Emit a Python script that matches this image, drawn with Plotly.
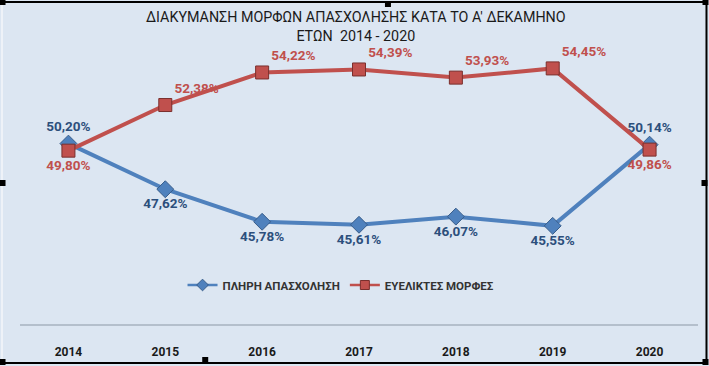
import plotly.graph_objects as go

years = ["2014", "2015", "2016", "2017", "2018", "2019", "2020"]
full_time = [50.20, 47.62, 45.78, 45.61, 46.07, 45.55, 50.14]
flexible = [49.80, 52.38, 54.22, 54.39, 53.93, 54.45, 49.86]
full_labels = ["50,20%", "47,62%", "45,78%", "45,61%", "46,07%", "45,55%", "50,14%"]
flex_labels = ["49,80%", "52,38%", "54,22%", "54,39%", "53,93%", "54,45%", "49,86%"]
full_pos = ["top center", "bottom center", "bottom center", "bottom center",
            "bottom center", "bottom center", "top center"]
flex_pos = ["bottom center", "top right", "top right", "top right",
            "top right", "top right", "bottom center"]
title_text = "ΔΙΑΚΥΜΑΝΣΗ ΜΟΡΦΩΝ ΑΠΑΣΧΟΛΗΣΗΣ ΚΑΤΑ ΤΟ Α' ΔΕΚΑΜΗΝΟ<br>ΕΤΩΝ  2014 - 2020"
name_full = "ΠΛΗΡΗ ΑΠΑΣΧΟΛΗΣΗ"
name_flex = "ΕΥΕΛΙΚΤΕΣ ΜΟΡΦΕΣ"

W, H = 709, 366
L, R, T, B = 19.5, 10.5, 41, 42
PW, PH = W - L - R, H - T - B

def px(x):
    return (x - L) / PW

def py(y):
    return (H - B - y) / PH

BG = "#dce6f2"
FONT = "Roboto, Noto Sans, sans-serif"
BLUE, BLUE_D = "#4f81bd", "#385d8a"
RED, RED_D = "#c0504d", "#7a2f2d"

fig = go.Figure()
fig.add_trace(go.Scatter(
    x=years, y=full_time, mode="lines+markers+text", name=name_full, showlegend=False,
    line=dict(color=BLUE, width=4),
    marker=dict(symbol="diamond", size=13, color=BLUE, line=dict(color=BLUE_D, width=1)),
    text=full_labels, textposition=full_pos,
    textfont=dict(color="#2c4f7c", size=13.5, family=FONT, weight="bold"),
    cliponaxis=False, hoverinfo="skip",
))
fig.add_trace(go.Scatter(
    x=years, y=flexible, mode="lines+markers+text", name=name_flex, showlegend=False,
    line=dict(color=RED, width=4),
    marker=dict(symbol="square", size=13, color=RED, line=dict(color=RED_D, width=1)),
    text=flex_labels, textposition=flex_pos,
    textfont=dict(color=RED, size=13.5, family=FONT, weight="bold"),
    cliponaxis=False, hoverinfo="skip",
))
# legend entries (no data)
fig.add_trace(go.Scatter(
    x=[None], y=[None], mode="lines+markers", name=name_full,
    line=dict(color=BLUE, width=2.5),
    marker=dict(symbol="diamond", size=9, color=BLUE, line=dict(color=BLUE_D, width=1)),
))
fig.add_trace(go.Scatter(
    x=[None], y=[None], mode="lines+markers", name=name_flex,
    line=dict(color=RED, width=2.5),
    marker=dict(symbol="square", size=9, color=RED, line=dict(color=RED_D, width=1)),
))

shapes = []
shapes.append(dict(type="line", xref="paper", yref="paper",
                   x0=px(3), x1=px(707), y0=py(2), y1=py(2),
                   line=dict(color="black", width=2)))
shapes.append(dict(type="line", xref="paper", yref="paper",
                   x0=px(707), x1=px(707), y0=py(2), y1=py(363),
                   line=dict(color="black", width=2)))
shapes.append(dict(type="line", xref="paper", yref="paper",
                   x0=px(3), x1=px(707), y0=py(363), y1=py(363),
                   line=dict(color="black", width=2)))
shapes.append(dict(type="line", xref="paper", yref="paper",
                   x0=px(1.5), x1=px(1.5), y0=py(2), y1=py(363),
                   line=dict(color="#eef2f8", width=2)))
for hx, hy in [(2, 2), (388, 4), (706, 2), (2, 183), (705, 183),
               (2, 362), (205, 360), (706, 362)]:
    shapes.append(dict(type="rect", xref="paper", yref="paper",
                       x0=px(hx - 3), x1=px(hx + 3), y0=py(hy - 3), y1=py(hy + 3),
                       fillcolor="black", line=dict(width=0)))

fig.add_annotation(text=title_text, xref="paper", yref="paper",
                   x=px(356), y=py(26), xanchor="center", yanchor="middle",
                   showarrow=False, align="center",
                   font=dict(size=14.3, color="#1a1a1a", family=FONT))

fig.update_layout(
    width=W, height=H,
    margin=dict(l=L, r=R, t=T, b=B, autoexpand=False),
    paper_bgcolor=BG, plot_bgcolor=BG,
    font=dict(family=FONT),
    showlegend=True,
    legend=dict(orientation="h", x=px(341), xanchor="center", y=py(285), yanchor="middle",
                bgcolor="rgba(0,0,0,0)",
                font=dict(size=11.5, color="#333333", family=FONT, weight="bold"),
                itemwidth=30, traceorder="normal"),
    xaxis=dict(type="category", range=[-0.5, 6.5], showgrid=False, zeroline=False,
               showline=True, linecolor="#b4bfcc", linewidth=1.5, automargin=False,
               ticks="", ticklabelstandoff=16,
               tickfont=dict(size=12, color="#1a1a1a", family=FONT, weight="bold")),
    yaxis=dict(range=[40, 56], visible=False, fixedrange=True, automargin=False),
    shapes=shapes,
    hovermode=False,
)

fig.write_html("out.html", config={"displayModeBar": False},
               post_script="document.body.style.margin='0';document.body.style.padding='0';")
